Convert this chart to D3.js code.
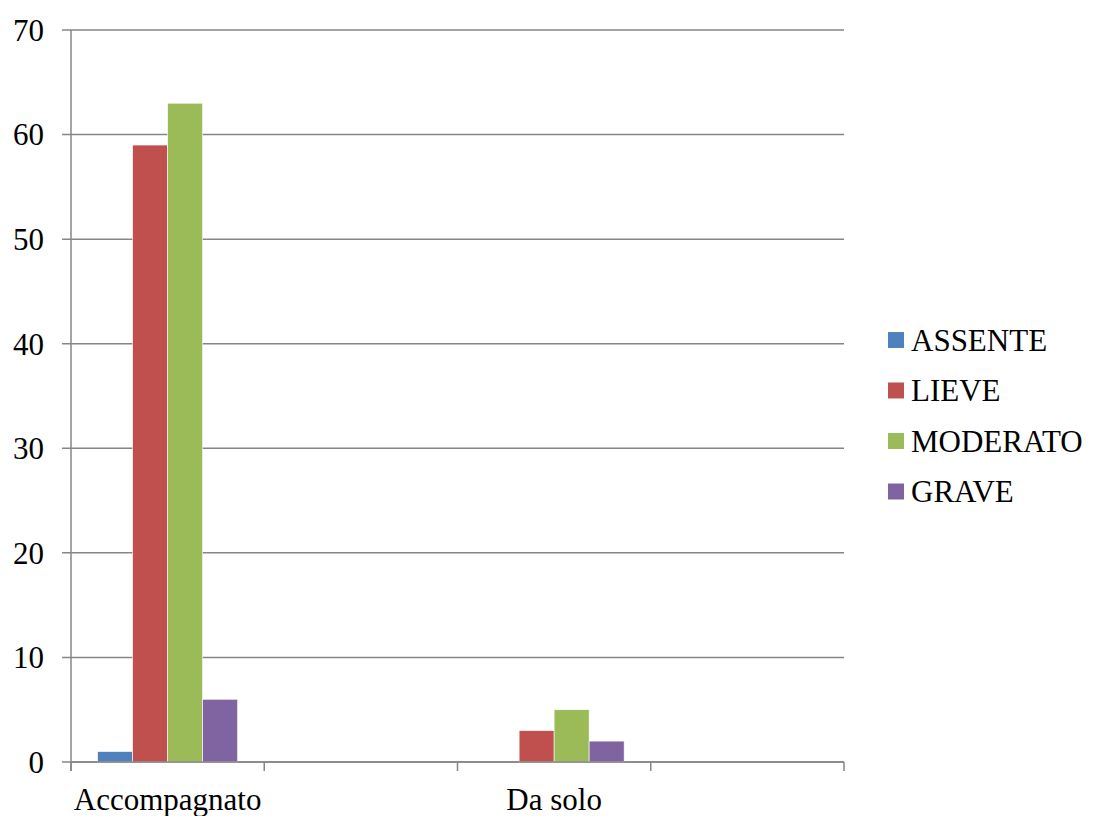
<!DOCTYPE html>
<html>
<head>
<meta charset="utf-8">
<script src="https://cdn.jsdelivr.net/npm/d3@7"></script>
<style>
  html, body { margin: 0; padding: 0; background: #fff; }
  svg { display: block; }
</style>
</head>
<body>
<svg id="chart" width="1094" height="816"></svg>
<script>
// ---- data ----
const categories = ["Accompagnato", "", "Da solo", ""];
const seriesNames = ["ASSENTE", "LIEVE", "MODERATO", "GRAVE"];
const assente  = [1, null, 0, null];
const lieve    = [59, null, 3, null];
const moderato = [63, null, 5, null];
const grave    = [6, null, 2, null];
const yTicks = [0, 10, 20, 30, 40, 50, 60, 70];
const colors = ["#4F81BD", "#C0504D", "#9BBB59", "#8064A2"];

const seriesValues = [assente, lieve, moderato, grave];

(function () {
  const svg = d3.select("#chart");
  const pL = 71, pR = 844, pT = 30, pB = 762;
  const FONT = "Liberation Serif";

  const x = d3.scaleBand().domain(d3.range(categories.length)).range([pL, pR]).paddingInner(0).paddingOuter(0);
  const inner = d3.scaleBand().domain(seriesNames).range([0, x.bandwidth()]).paddingInner(0).paddingOuter(0.76);
  const y = d3.scaleLinear().domain([0, 70]).range([pB, pT]);

  const gridColor = "#868686";

  // gridlines
  svg.append("g").selectAll("line").data(yTicks).join("line")
    .attr("x1", pL - 9).attr("x2", pR)
    .attr("y1", d => y(d)).attr("y2", d => y(d))
    .attr("stroke", gridColor).attr("stroke-width", 1.5);

  svg.append("g").selectAll("text").data(yTicks).join("text")
    .attr("x", 44).attr("y", d => y(d)).attr("dy", "0.35em")
    .attr("text-anchor", "end").attr("font-size", 31)
    .style("font-family", FONT)
    .text(d => d);

  // bars
  seriesNames.forEach((s, si) => {
    svg.append("g").selectAll("rect")
      .data(seriesValues[si].map((v, i) => ({ i, v })).filter(d => d.v !== null && d.v > 0))
      .join("rect")
      .attr("x", d => x(d.i) + inner(s))
      .attr("width", inner.bandwidth())
      .attr("y", d => y(d.v))
      .attr("height", d => y(0) - y(d.v))
      .attr("fill", colors[si])
      .attr("stroke", "#fff").attr("stroke-width", 0.6);
  });

  // axes lines
  svg.append("line").attr("x1", pL).attr("x2", pL).attr("y1", pT).attr("y2", pB + 9)
    .attr("stroke", gridColor).attr("stroke-width", 1.5);
  svg.append("line").attr("x1", pL).attr("x2", pR).attr("y1", pB).attr("y2", pB)
    .attr("stroke", gridColor).attr("stroke-width", 1.5);
  const xTickPos = d3.range(categories.length + 1).map(i => i < categories.length ? x(i) : pR);
  svg.append("g").selectAll("line").data(xTickPos).join("line")
    .attr("x1", d => d).attr("x2", d => d).attr("y1", pB).attr("y2", pB + 9)
    .attr("stroke", gridColor).attr("stroke-width", 1.5);

  // x labels
  svg.append("g").selectAll("text").data(categories).join("text")
    .attr("x", (d, i) => x(i) + x.bandwidth() / 2)
    .attr("y", 810)
    .attr("text-anchor", "middle").attr("font-size", 31)
    .style("font-family", FONT)
    .text(d => d);

  // legend
  const legendY = [340, 390.5, 441, 491.5];
  const lg = svg.append("g");
  seriesNames.forEach((s, i) => {
    lg.append("rect").attr("x", 888).attr("y", legendY[i] - 8).attr("width", 16).attr("height", 16)
      .attr("fill", colors[i]);
    lg.append("text").attr("x", 911).attr("y", legendY[i]).attr("dy", "0.35em")
      .attr("font-size", 31).style("font-family", FONT).text(s);
  });
})();
</script>
</body>
</html>
